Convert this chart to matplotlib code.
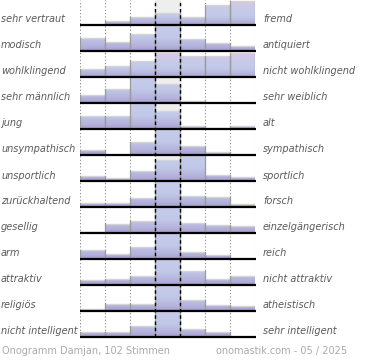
import numpy as np
import matplotlib.pyplot as plt
from matplotlib.colors import LinearSegmentedColormap
from matplotlib.patches import Rectangle

left_labels = ["sehr vertraut", "modisch", "wohlklingend", "sehr männlich", "jung",
               "unsympathisch", "unsportlich", "zurückhaltend", "gesellig", "arm",
               "attraktiv", "religiös", "nicht intelligent"]
right_labels = ["fremd", "antiquiert", "nicht wohlklingend", "sehr weiblich", "alt",
                "sympathisch", "sportlich", "forsch", "einzelgängerisch", "reich",
                "nicht attraktiv", "atheistisch", "sehr intelligent"]

# bar heights in 1/26 of a row, 7 steps per row; above 26 gets cut off
votes = [
    [0, 3.7, 7.7, 11.7, 8, 19.7, 24],
    [12.7, 8.7, 16.7, 40, 12, 8.3, 5],
    [8.3, 10.7, 15.7, 23.7, 20.7, 20.7, 24],
    [7.7, 13.7, 40, 19, 2, 0, 0],
    [12.7, 12.7, 40, 18, 2.7, 1.3, 2.7],
    [4.7, 0, 12.7, 40, 9.3, 3.3, 0],
    [5, 3.3, 9.7, 21, 40, 6.3, 3.7],
    [4, 4, 9.3, 40, 10.7, 9.7, 3.3],
    [1, 8.7, 11.7, 40, 9.7, 7.7, 6.7],
    [8.7, 5, 11.7, 40, 6.7, 3.7, 0],
    [4.7, 5.7, 9, 40, 13.7, 5.7, 8.7],
    [2.3, 7.3, 7.3, 40, 10.7, 6.3, 5.3],
    [4.7, 4.7, 10.7, 40, 7.7, 4.7, 0],
]
footer_left = "Onogramm Damjan, 102 Stimmen"
footer_right = "onomastik.com - 05 / 2025"

W, H = 370, 360
ROW = 26.0
n = len(left_labels)

cmap = LinearSegmentedColormap.from_list("ono", [
    (0.0, "#a39ac8"), (0.1, "#b3b0db"), (0.35, "#c2c9e8"),
    (0.65, "#c6cbe9"), (1.0, "#dcc4e5")])
grad = np.linspace(0, 1, 256).reshape(-1, 1)

fig = plt.figure(figsize=(W / 100, H / 100), dpi=100)
ax = fig.add_axes([80 / W, 23 / H, 175 / W, 337 / H])
ax.set_xlim(0, 7)
ax.set_ylim(0, 337 / ROW)
ax.axis("off")

# neutral column
ax.axvspan(3, 4, color="#eeeeee", zorder=0)
for x in [0, 1, 2, 5, 6, 7]:
    ax.axvline(x, color="#888888", lw=0.8, ls=(0, (1, 2)), zorder=1)

for i, row in enumerate(votes):
    base = n - 1 - i
    top = max(row) / ROW
    for j, v in enumerate(row):
        h = min(v / ROW, 1.0)
        if h <= 0:
            continue
        rect = Rectangle((j, base), 1, h, transform=ax.transData)
        im = ax.imshow(grad, cmap=cmap, origin="lower", aspect="auto",
                       extent=(j, j + 1, base, base + top), zorder=2,
                       interpolation="bilinear")
        im.set_clip_path(rect)
        ax.plot([j, j + 1], [base + h, base + h], color="#d4d4d4", lw=1, zorder=3,
                solid_capstyle="butt")
        ax.plot([j, j], [base, base + h], color="#9a9a9a", lw=0.9, zorder=3)
        ax.plot([j + 1, j + 1], [base, base + h], color="#9a9a9a", lw=0.9, zorder=3)
    ax.plot([0, 7.05], [base, base], color="black", lw=1.6, zorder=5,
            clip_on=False, solid_capstyle="butt")

    ypx = 25 + ROW * i - 5.5
    fig.text(1 / W, (H - ypx) / H, left_labels[i], ha="left", va="center",
             fontsize=7, style="italic", color="#5a5a5a")
    fig.text(263 / W, (H - ypx) / H, right_labels[i], ha="left", va="center",
             fontsize=7, style="italic", color="#5a5a5a")

for x in [3, 4]:
    ax.axvline(x, color="black", lw=1, ls=(0, (2.5, 2)), zorder=4)

fig.text(2 / W, 9 / H, footer_left, ha="left", va="center", fontsize=7, color="#aaaaaa")
fig.text(347 / W, 9 / H, footer_right, ha="right", va="center", fontsize=7, color="#aaaaaa")

fig.savefig("out.png", dpi=100)
